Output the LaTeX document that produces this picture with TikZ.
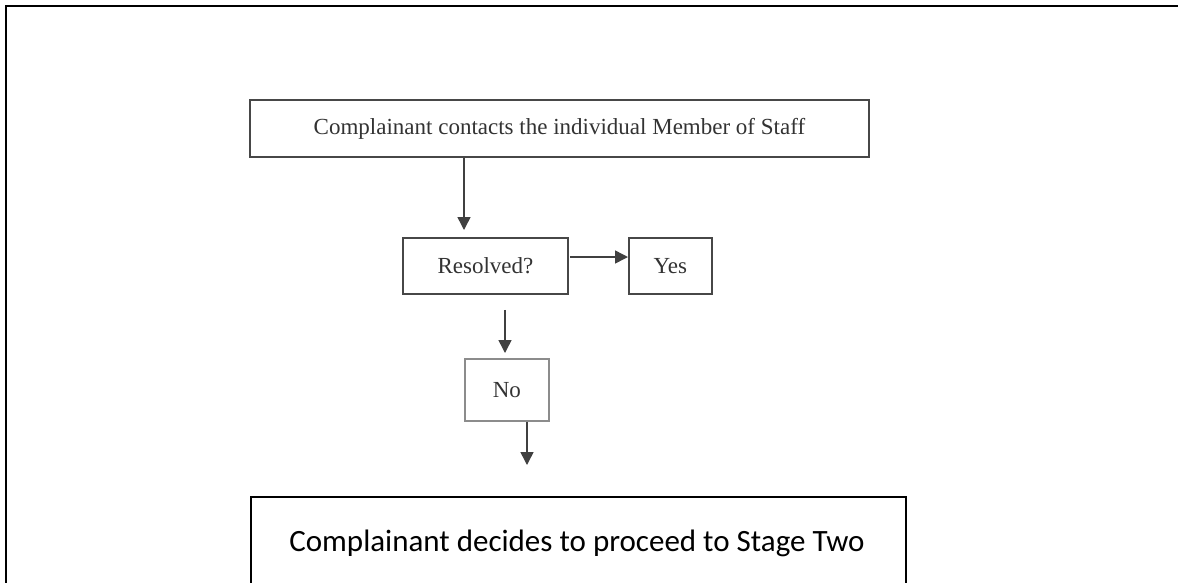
\documentclass[tikz,border=0pt]{standalone}
\usepackage{fontspec}
\setmainfont{Liberation Serif}
\newfontfamily\calib{Carlito}
\usetikzlibrary{arrows.meta,calc}
\begin{document}
\begin{tikzpicture}[x=1pt,y=-1pt,
 box/.style={draw=black!72, line width=1.8pt, text=black!80, font=\fontsize{23}{27}\selectfont, inner sep=0pt, anchor=north west},
 arr/.style={draw=black!75, line width=1.5pt, -{Triangle[length=13pt,width=13pt]}}]
\useasboundingbox (0,0) rectangle (1178,582);
\fill[white] (0,0) rectangle (1178,582);
\draw[line width=2.6pt] (6,600) -- (6,6) -- (1190,6);
\node[box, minimum width=619pt, minimum height=57pt] (contact) at (249,99) {Complainant contacts the individual Member of Staff};
\node[box, minimum width=165pt, minimum height=56pt] (res) at (402,237) {Resolved?};
\node[box, minimum width=83pt, minimum height=56pt] (yes) at (628,237) {Yes};
\node[box, draw=black!45, minimum width=84pt, minimum height=62pt] (no) at (464,358) {No};
\node[draw=black, line width=2pt, minimum width=655pt, minimum height=140pt, anchor=north west, inner sep=0pt] (stagebox) at (250,496) {};
\node[font=\calib\fontsize{31}{36}\selectfont, inner sep=0pt] (stage) at (577,543) {Complainant decides to proceed to Stage Two};
\coordinate (tip) at ($(stagebox.north west)+(277,-31)$);
\draw[arr] ($(contact.south west)+(215,0)$) -- ($(res.north west)+(62,-7)$);
\draw[arr] ($(res.north east)+(1,20)$) -- ($(yes.north west)+(0,20)$);
\draw[arr] ($(res.south west)+(103,15)$) -- ($(no.north west)+(41,-5)$);
\draw[arr] ($(no.south west)+(63,0)$) -- (tip);
\end{tikzpicture}
\end{document}
